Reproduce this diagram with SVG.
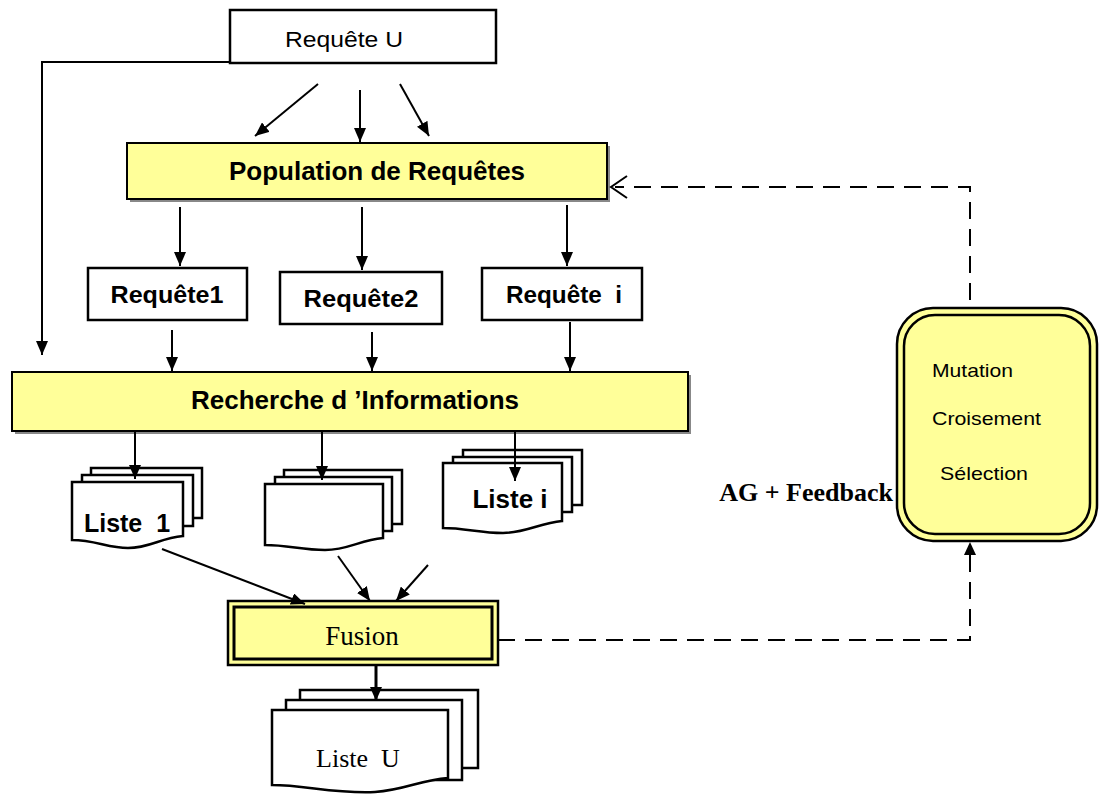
<svg xmlns="http://www.w3.org/2000/svg" width="1104" height="801" viewBox="0 0 1104 801">
<style>
.box{fill:#fff;stroke:#000;stroke-width:2.5}
.ybox{fill:#ffff99;stroke:#000;stroke-width:2}
.sh{fill:#888}
.ln{stroke:#000;stroke-width:2;fill:none}
.dash{stroke:#000;stroke-width:2;fill:none;stroke-dasharray:17 10}
.doc{fill:#fff;stroke:#000;stroke-width:2.5}
.sans{font-family:"Liberation Sans",Arial,sans-serif}
.serif{font-family:"Liberation Serif","Times New Roman",serif}
.b{font-weight:bold}
</style>
<defs>
<marker id="ah" viewBox="0 0 14 12" refX="14" refY="6" markerWidth="14" markerHeight="12" orient="auto" markerUnits="userSpaceOnUse"><path d="M0,0 L14,6 L0,12 z" fill="#000"/></marker>
</defs>

<g id="requeteU">
<rect class="box" x="230" y="10" width="266" height="53"/>
<text class="sans" x="344" y="47" font-size="22" text-anchor="middle" textLength="118" lengthAdjust="spacingAndGlyphs">Requête U</text>
</g>

<g id="population">
<rect class="sh" x="130" y="146" width="480" height="56"/>
<rect class="ybox" x="127" y="143" width="480" height="56"/>
<text class="sans b" x="377" y="180" font-size="26" text-anchor="middle">Population de Requêtes</text>
</g>

<g id="requete1">
<rect class="box" x="88" y="268" width="159" height="52"/>
<text class="sans b" x="167" y="303" font-size="24" text-anchor="middle" textLength="113" lengthAdjust="spacingAndGlyphs">Requête1</text>
</g>
<g id="requete2">
<rect class="box" x="280" y="272" width="162" height="52"/>
<text class="sans b" x="361" y="307" font-size="24" text-anchor="middle" textLength="115" lengthAdjust="spacingAndGlyphs">Requête2</text>
</g>
<g id="requetei">
<rect class="box" x="482" y="268" width="160" height="52"/>
<text class="sans b" x="564" y="303" font-size="24" text-anchor="middle" xml:space="preserve" textLength="116" lengthAdjust="spacingAndGlyphs">Requête  i</text>
</g>

<g id="recherche">
<rect class="sh" x="15" y="375" width="676" height="59"/>
<rect class="ybox" x="12" y="372" width="676" height="59"/>
<text class="sans b" x="355" y="409" font-size="26" text-anchor="middle">Recherche d ’Informations</text>
</g>

<g id="liste1">
<path class="doc" d="M91,468 H202 V518 H91 Z"/>
<path class="doc" d="M82,475 H193 V526 H82 Z"/>
<path class="doc" d="M72,482 H183 V536 C160,538 150,548 128,548 C108,548 95,540 72,540 Z"/>
<text class="sans b" x="127" y="532" font-size="25" text-anchor="middle" xml:space="preserve">Liste  1</text>
</g>

<g id="liste2">
<path class="doc" d="M284,470 H402 V524 H284 Z"/>
<path class="doc" d="M275,477 H392 V531 H275 Z"/>
<path class="doc" d="M265,484 H383 V538 C360,540 348,550 325,550 C302,550 288,545 265,545 Z"/>
</g>

<g id="listei">
<path class="doc" d="M463,450 H582 V505 H463 Z"/>
<path class="doc" d="M453,457 H572 V512 H453 Z"/>
<path class="doc" d="M443,463 H562 V521 C540,523 525,533 503,533 C480,533 465,528 443,528 Z"/>
<text class="sans b" x="510" y="508" font-size="26" text-anchor="middle">Liste i</text>
</g>

<g id="fusion">
<rect x="228" y="601" width="270" height="64" fill="#ffff99" stroke="#000" stroke-width="2.5"/>
<rect x="234" y="607" width="258" height="52" fill="#ffff99" stroke="#000" stroke-width="3"/>
<text class="serif" x="362" y="645" font-size="27" text-anchor="middle">Fusion</text>
</g>

<g id="listeU">
<path class="doc" d="M300,690 H478 V768 H300 Z"/>
<path class="doc" d="M286,700 H462 V780 H286 Z"/>
<path class="doc" d="M272,710 H448 V778 C420,780 405,790 375,792 C335,794 305,785 272,785 Z"/>
<text class="serif" x="358" y="767" font-size="26" text-anchor="middle" xml:space="preserve">Liste  U</text>
</g>

<g id="ag">
<rect x="897" y="308" width="200" height="233" rx="36" fill="#ffff99" stroke="#000" stroke-width="2.5"/>
<rect x="904" y="315" width="186" height="219" rx="31" fill="#ffff99" stroke="#000" stroke-width="2.5"/>
<text class="sans" x="932" y="377" font-size="19" textLength="81" lengthAdjust="spacingAndGlyphs">Mutation</text>
<text class="sans" x="932" y="425" font-size="19" textLength="109" lengthAdjust="spacingAndGlyphs">Croisement</text>
<text class="sans" x="940" y="480" font-size="19" textLength="88" lengthAdjust="spacingAndGlyphs">Sélection</text>
</g>

<g id="agLabel">
<text class="serif b" x="893" y="501" font-size="26" text-anchor="end">AG + Feedback</text>
</g>

<g id="connectors">
<path class="ln" d="M230,62 H42 V355" marker-end="url(#ah)"/>
<line class="ln" x1="318" y1="84" x2="255" y2="136" marker-end="url(#ah)"/>
<line class="ln" x1="360" y1="90" x2="360" y2="142" marker-end="url(#ah)"/>
<line class="ln" x1="400" y1="84" x2="429" y2="136" marker-end="url(#ah)"/>
<line class="ln" x1="180" y1="207" x2="180" y2="266" marker-end="url(#ah)"/>
<line class="ln" x1="362" y1="207" x2="362" y2="270" marker-end="url(#ah)"/>
<line class="ln" x1="567" y1="205" x2="567" y2="266" marker-end="url(#ah)"/>
<line class="ln" x1="172" y1="330" x2="172" y2="371" marker-end="url(#ah)"/>
<line class="ln" x1="372" y1="332" x2="372" y2="371" marker-end="url(#ah)"/>
<line class="ln" x1="570" y1="322" x2="570" y2="371" marker-end="url(#ah)"/>
<line class="ln" x1="135" y1="431" x2="135" y2="479" marker-end="url(#ah)"/>
<line class="ln" x1="322" y1="431" x2="322" y2="480" marker-end="url(#ah)"/>
<line class="ln" x1="515" y1="431" x2="515" y2="481" marker-end="url(#ah)"/>
<line class="ln" x1="162" y1="549" x2="305" y2="604" marker-end="url(#ah)"/>
<line class="ln" x1="338" y1="556" x2="370" y2="601" marker-end="url(#ah)"/>
<line class="ln" x1="428" y1="565" x2="396" y2="601" marker-end="url(#ah)"/>
<line x1="376" y1="666" x2="376" y2="701" stroke="#000" stroke-width="3" marker-end="url(#ah)"/>
<path class="dash" d="M498,640 H970 V547"/>
<path d="M970,542 l-6,13 h12 z" fill="#000"/>
<path class="dash" d="M970,300 V187 H615"/>
<path d="M627,176 L611,187 L627,198" fill="none" stroke="#000" stroke-width="2"/>
</g>
</svg>
